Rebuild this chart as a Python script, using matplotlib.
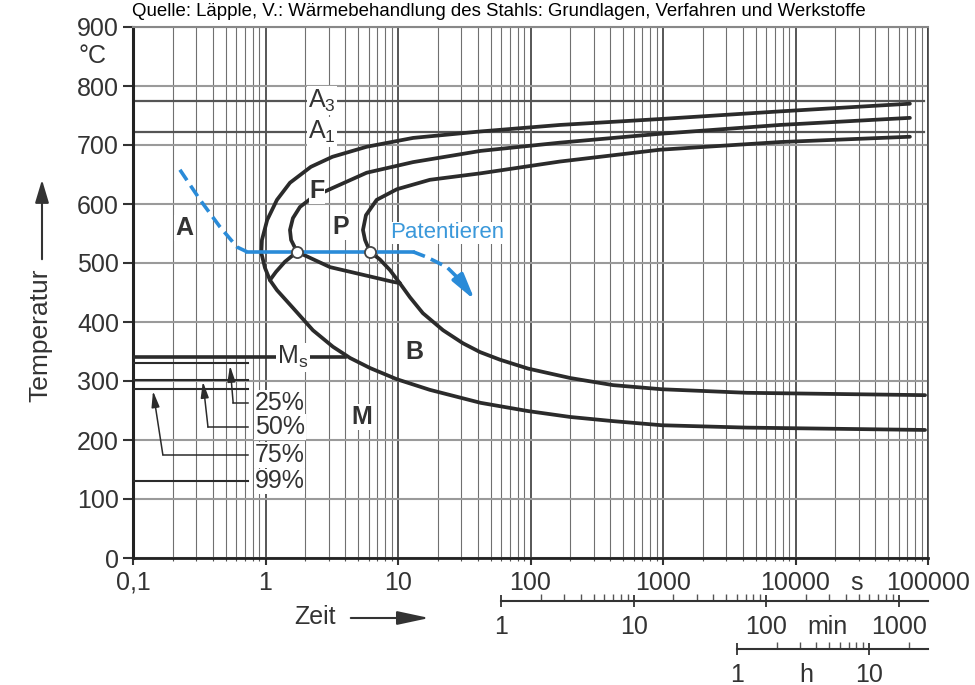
import matplotlib
matplotlib.use("Agg")
import matplotlib.pyplot as plt
from matplotlib.patches import FancyArrowPatch
from matplotlib.ticker import FixedLocator, FixedFormatter, NullFormatter

plt.rcParams['font.family'] = ['Liberation Sans', 'DejaVu Sans']
plt.rcParams['mathtext.fontset'] = 'custom'
plt.rcParams['mathtext.rm'] = 'Liberation Sans'
plt.rcParams['mathtext.it'] = 'Liberation Sans:italic'

# Zeit in s, Temperatur in °C
start_t = [73000, 7640, 950, 167, 42, 13, 5.8, 3.2, 2.2, 1.53, 1.22, 1.03, 0.94, 0.93, 0.99, 1.08,
           1.22, 1.61, 2.28, 3.23, 4.35, 6.15, 9.8, 17.4, 42, 96, 200, 420, 980, 4300, 95000]
start_T = [770, 757, 744, 734, 723, 712, 697, 680, 663, 636, 607, 573, 539, 517, 492, 471,
           454, 424, 386, 358, 339, 322, 303, 285, 263, 249, 239, 232, 225, 221, 217]

perlit_t = [1.73, 1.56, 1.53, 1.61, 1.82, 2.28, 3.2, 5.8, 13, 42, 167, 950, 7640, 73000]
perlit_T = [519, 539, 556, 576, 595, 612, 627, 653, 671, 690, 704, 719, 734, 746]

ende_t = [6.15, 5.64, 5.44, 5.73, 6.9, 9.8, 17.4, 42, 167, 950, 7640, 73000]
ende_T = [519, 539, 556, 581, 607, 625, 641, 652, 672, 692, 705, 714]

unten_t = [1.73, 3.07, 5.44, 9.2, 10.3]
unten_T = [519, 493, 480, 468, 466]

kerbe_t = [6.15, 7.3, 8.7, 10.3]
kerbe_T = [519, 506, 488, 466]

bainit_t = [10.3, 12.3, 15.4, 21.9, 30.9, 41.6, 59, 96, 200, 420, 980, 4300, 95000]
bainit_T = [466, 442, 415, 386, 364, 349, 336, 321, 305, 293, 286, 280, 276]

bogen_t = [1.73, 1.40, 1.20, 1.08]
bogen_T = [519, 502, 485, 471]

punkte_t = [1.73, 6.15]
punkte_T = [519, 519]

pat1_t = [0.226, 0.321, 0.454, 0.61, 0.725]
pat1_T = [658, 607, 561, 527, 519]
pat2_t = [0.725, 13.0]
pat2_T = [519, 519]
pat3_t = [13.0, 16.5, 23.4, 29.4]
pat3_T = [519, 510, 493, 471]
pat_tip = (38, 437)

A3 = 775
A1 = 722
Ms = 340
Ms_end = 4.0
anteil_T = [330, 302, 286, 130]
anteil_labels = ["25%", "50%", "75%", "99%"]
anteil_text_T = [263, 222, 175, 130]
anteil_end = 0.74

x_ticks = [0.1, 1, 10, 100, 1000, 10000, 100000]
x_labels = ["0,1", "1", "10", "100", "1000", "10000", "100000"]
y_ticks = [0, 100, 200, 300, 400, 500, 600, 700, 800, 900]

min_major = [1, 10, 100, 1000]
min_minor = [2, 3, 4, 5, 6, 7, 8, 9, 20, 30, 40, 50, 60, 70, 80, 90,
             200, 300, 400, 500, 600, 700, 800, 900]
h_major = [1, 10]
h_minor = [2, 3, 4, 5, 6, 7, 8, 9, 20]

dark = '#2b2b2b'
blue = '#2a8bd8'
fs = 18

fig = plt.figure(figsize=(9.75, 6.85), dpi=100)
ax = fig.add_axes([133/975, 1-558/685, 795/975, 531/685])
ax.set_xscale('log')
ax.set_xlim(0.1, 1e5)
ax.set_ylim(0, 900)

ax.xaxis.set_major_locator(FixedLocator(x_ticks))
ax.xaxis.set_major_formatter(FixedFormatter(x_labels))
ax.xaxis.set_minor_formatter(NullFormatter())
ax.set_yticks(y_ticks)
ax.tick_params(axis='y', direction='out', length=7, width=1.5, pad=3, labelsize=fs, colors='#333')
ax.tick_params(axis='x', which='major', direction='out', length=5, width=1.5, pad=4, labelsize=fs, colors='#333')
ax.tick_params(axis='x', which='minor', direction='out', length=2.5, width=0.8, colors='#555')

ax.grid(which='major', axis='y', color='#9a9a9a', lw=1.5)
ax.grid(which='minor', axis='x', color='#707070', lw=0.8)
ax.grid(which='major', axis='x', color='#3a3a3a', lw=1.2)
ax.set_axisbelow(True)

ax.spines['left'].set_color('#222')
ax.spines['left'].set_linewidth(2.2)
ax.spines['bottom'].set_color('#222')
ax.spines['bottom'].set_linewidth(2)
ax.spines['top'].set_color('#888')
ax.spines['top'].set_linewidth(1.5)
ax.spines['right'].set_color('#444')
ax.spines['right'].set_linewidth(1.2)

# A3 / A1
ax.axhline(A3, xmax=0.995, color='#555', lw=1.6, zorder=2)
ax.axhline(A1, xmax=0.995, color='#555', lw=1.6, zorder=2)
ax.text(2.67, A3, r'A$_\mathrm{3}$', fontsize=fs, ha='center', va='center', color='#333',
        bbox=dict(facecolor='white', edgecolor='none', pad=1), zorder=4)
ax.text(2.67, A1, r'A$_\mathrm{1}$', fontsize=fs, ha='center', va='center', color='#333',
        bbox=dict(facecolor='white', edgecolor='none', pad=1), zorder=4)

# Umwandlungslinien
kw = dict(color=dark, lw=2.7, zorder=3, solid_capstyle='round', solid_joinstyle='round')
ax.plot(start_t, start_T, **kw)
ax.plot(perlit_t, perlit_T, **kw)
ax.plot(ende_t, ende_T, **kw)
ax.plot(unten_t, unten_T, **kw)
ax.plot(kerbe_t, kerbe_T, **kw)
ax.plot(bainit_t, bainit_T, **kw)
ax.plot(bogen_t, bogen_T, **kw)

# Martensit
ax.plot([0.1, Ms_end], [Ms, Ms], color=dark, lw=2.6, zorder=3)
ax.text(1.61, Ms, r'M$_\mathrm{s}$', fontsize=fs, ha='center', va='center', color='#333',
        bbox=dict(facecolor='white', edgecolor='none', pad=1), zorder=4)
for T in anteil_T:
    ax.plot([0.1, anteil_end], [T, T], color=dark, lw=1.5, zorder=3)
for lab, T in zip(anteil_labels, anteil_text_T):
    ax.text(0.83, T, lab, fontsize=fs, ha='left', va='center', color='#333',
            bbox=dict(facecolor='white', edgecolor='none', pad=0.5), zorder=4)

leaders = [((0.57, 263), (0.54, 326)), ((0.368, 222), (0.337, 299)), ((0.168, 175), (0.1416, 283))]
for (x0, y0), (x1, y1) in leaders:
    ax.plot([anteil_end, x0], [y0, y0], color=dark, lw=1.1, zorder=3)
    ax.annotate('', xy=(x1, y1), xytext=(x0, y0),
                arrowprops=dict(arrowstyle='-|>,head_length=0.8,head_width=0.2', color=dark,
                                lw=1.1, mutation_scale=12, shrinkA=0, shrinkB=0), zorder=3)

# Patentieren
ax.plot(pat1_t, pat1_T, color=blue, lw=2.6, ls=(0, (3.5, 1.8)), zorder=5)
ax.plot(pat2_t, pat2_T, color=blue, lw=2.6, zorder=5)
ax.plot(pat3_t, pat3_T, color=blue, lw=2.6, ls=(0, (3.5, 1.8)), zorder=5)
ax.annotate('', xy=pat_tip, xytext=(pat3_t[-1], pat3_T[-1]),
            arrowprops=dict(arrowstyle='-|>,head_length=1.2,head_width=0.3', color=blue,
                            lw=2.6, mutation_scale=13, shrinkA=0, shrinkB=0), zorder=5)
ax.plot(punkte_t, punkte_T, 'o', ms=8, mfc='white', mec='#444', mew=1.3, zorder=6)
ax.text(8.7, 551, 'Patentieren', fontsize=16, color='#3a98da', ha='left', va='center',
        bbox=dict(facecolor='white', edgecolor='none', pad=0.5), zorder=4)

# Gefuegebezeichnungen
for lab, x, y in [('A', 0.243, 559), ('P', 3.72, 561), ('F', 2.45, 622), ('B', 13.4, 349), ('M', 5.35, 239)]:
    ax.text(x, y, lab, fontsize=fs, fontweight='bold', ha='center', va='center', color='#333',
            bbox=dict(facecolor='white', edgecolor='none', pad=0.5), zorder=4)

ax.annotate('s', xy=(29000, 0), xycoords=('data', 'axes fraction'), xytext=(0, -9),
            textcoords='offset points', ha='center', va='top', fontsize=fs, color='#333')

# Nebenskalen min / h
for ypx, fac, majors, minors, unit, upos in [(601, 60, min_major, min_minor, 'min', 17300),
                                              (649, 3600, h_major, h_minor, 'h', 12000)]:
    a2 = fig.add_axes([133/975, 1-ypx/685, 795/975, 1e-4])
    a2.patch.set_visible(False)
    a2.set_xscale('log')
    a2.set_xlim(0.1/fac, 1e5/fac)
    a2.set_yticks([])
    for s in ['top', 'left', 'right']:
        a2.spines[s].set_visible(False)
    a2.spines['bottom'].set_bounds(majors[0], 1e5/fac)
    a2.spines['bottom'].set_color('#333')
    a2.spines['bottom'].set_linewidth(1.5)
    a2.xaxis.set_major_locator(FixedLocator(majors))
    a2.xaxis.set_major_formatter(FixedFormatter([str(m) for m in majors]))
    a2.xaxis.set_minor_locator(FixedLocator(minors))
    a2.xaxis.set_minor_formatter(NullFormatter())
    a2.tick_params(which='major', direction='inout', length=8, width=1.3, pad=6, labelsize=fs, colors='#333')
    a2.tick_params(which='minor', direction='in', length=5, width=1.0, colors='#555')
    a2.annotate(unit, xy=(upos/fac, 0), xycoords=('data', 'axes fraction'), xytext=(0, -10),
                textcoords='offset points', ha='center', va='top', fontsize=fs, color='#333')

# Achsenbeschriftungen
fig.text(93/975, 1-56/685, '°C', fontsize=fs, ha='center', va='center', color='#333')
fig.text(40/975, 1-335/685, 'Temperatur', fontsize=19, rotation=90, ha='center', va='center', color='#333')
fig.patches.append(FancyArrowPatch(
    (42/975, 1-262/685), (42/975, 1-177/685), transform=fig.transFigure,
    arrowstyle='-|>,head_length=1.0,head_width=0.3', mutation_scale=14, color='#333', lw=1.5))
fig.text(315/975, 1-617/685, 'Zeit', fontsize=fs, ha='center', va='center', color='#333')
fig.patches.append(FancyArrowPatch(
    (348/975, 1-618/685), (432/975, 1-618/685), transform=fig.transFigure,
    arrowstyle='-|>,head_length=1.4,head_width=0.3', mutation_scale=14, color='#333', lw=1.5))

fig.text(0.512, 1-11/685, 'Quelle: Läpple, V.: Wärmebehandlung des Stahls: Grundlagen, Verfahren und Werkstoffe',
         fontsize=13.4, ha='center', va='center', color='black')

fig.savefig('out.png', dpi=100)
